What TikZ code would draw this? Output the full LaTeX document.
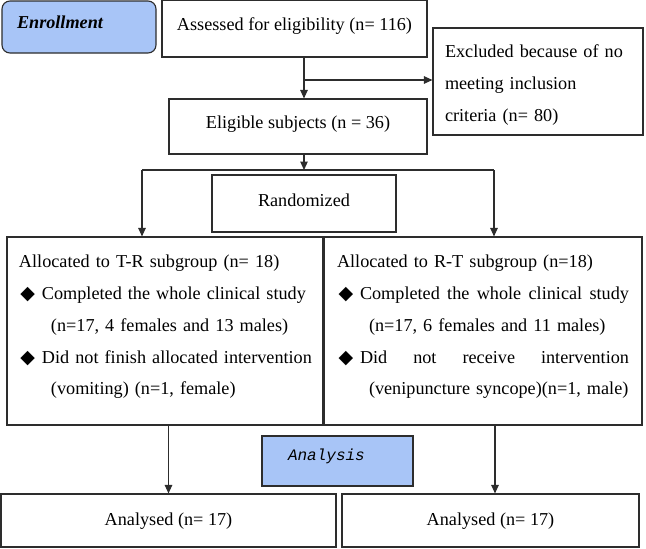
\documentclass[tikz,border=0pt]{standalone}
\usepackage{fontspec}
\setmainfont{Liberation Serif}
\newfontfamily\monofont{Liberation Mono}
\newfontfamily\symbfont{DejaVu Sans}
\usetikzlibrary{arrows.meta}
\definecolor{phaseblue}{RGB}{168,197,247}
\definecolor{boxline}{RGB}{45,45,45}
\newcommand{\dia}{\makebox[23pt][l]{\hspace{1.5pt}{\symbfont\fontsize{19}{19}\selectfont ◆}}}
\newcommand{\lowstrut}{\rule[-12pt]{0pt}{12pt}}
\newcommand{\highstrut}{\rule{0pt}{20pt}}
\newcommand{\fullline}[1]{\leavevmode\hbox to\linewidth{#1}}
\begin{document}
\begin{tikzpicture}[x=1pt,y=-1pt,
	box/.style={draw=boxline,line width=1.1pt,inner sep=0pt,font={\fontsize{18.2}{31.7}\selectfont}},
	oneline/.style={text height=13pt},
	phase/.style={box,fill=phaseblue},
	link/.style={draw=boxline,line width=1.1pt},
	arr/.style={link,-{Triangle[length=8.5pt,width=7.5pt]}}]
	\useasboundingbox (0,0) rectangle (646,549);
	
	\node[phase,oneline,rounded corners=8pt,minimum width=154pt,minimum height=52pt,text width=124pt,align=left,text depth=11pt] (enroll) at (79,27) {\textbf{\textit{Enrollment}}};
	\node[box,oneline,minimum width=265pt,minimum height=57pt,text depth=10pt] (assess) at (294.5,28.5) {Assessed for eligibility (n= 116)};
	\node[box,minimum width=210pt,minimum height=107pt,text width=186pt,align=left] (excl) at (538,81.5) {\highstrut Excluded because of no\\meeting inclusion\\criteria (n= 80)};
	\node[box,oneline,minimum width=258pt,minimum height=55pt,text depth=10pt] (elig) at (298,126.5) {Eligible subjects (n = 36)};
	\node[box,oneline,minimum width=184pt,minimum height=57pt,text depth=8pt] (rand) at (304,203.5) {Randomized};
	
	\node[box,minimum width=316pt,minimum height=188pt,text width=292pt,align=left] (trgrp) at (165,331) {Allocated to T-R subgroup (n= 18)\\
		\mbox{\dia Completed the whole clinical study}\\
		\hspace*{32pt}(n=17, 4 females and 13 males)\\
		\mbox{\dia Did not finish allocated intervention}\\
		\hspace*{32pt}(vomiting) (n=1, female)\lowstrut};
	\node[box,minimum width=318pt,minimum height=188pt,text width=292pt,align=left] (rtgrp) at (483,331) {Allocated to R-T subgroup (n=18)\\
		\fullline{\dia Completed\hfill the\hfill whole\hfill clinical\hfill study}\\
		\hspace*{32pt}(n=17, 6 females and 11 males)\\
		\fullline{\dia Did\hfill not\hfill receive\hfill intervention}\\
		\hspace*{32pt}(venipuncture syncope)(n=1, male)\lowstrut};
	
	\node[phase,oneline,minimum width=151pt,minimum height=50pt,text width=99pt,align=left,text depth=15pt,font={\monofont\itshape\fontsize{16}{20}\selectfont}] (anal) at (337.5,461) {Analysis};
	\node[box,oneline,minimum width=335pt,minimum height=53pt,text depth=3pt] (lres) at (168.5,520.5) {Analysed (n= 17)};
	\node[box,oneline,minimum width=297pt,minimum height=53pt,text depth=3pt] (rres) at (490.5,520.5) {Analysed (n= 17)};
	
	\coordinate (split) at (304,80);
	\coordinate (fork) at (304,170);
	\coordinate (forkl) at (142,170);
	\coordinate (forkr) at (494,170);
	\coordinate (rdrop) at (495,460);
	
	\draw[arr] (assess.south -| split) -- (elig.north -| split);
	\draw[arr] (split) -- (excl.west |- split);
	\draw[arr] (elig.south -| fork) -- (fork);
	\draw[link] (forkl) -- (forkr);
	\draw[arr] (forkl) -- (trgrp.north -| forkl);
	\draw[arr] (forkr) -- (rtgrp.north -| forkr);
	\draw[arr] (trgrp.south -| lres.north) -- (lres.north);
	\draw[arr] (rtgrp.south -| rdrop) -- (rres.north -| rdrop);
\end{tikzpicture}
\end{document}
